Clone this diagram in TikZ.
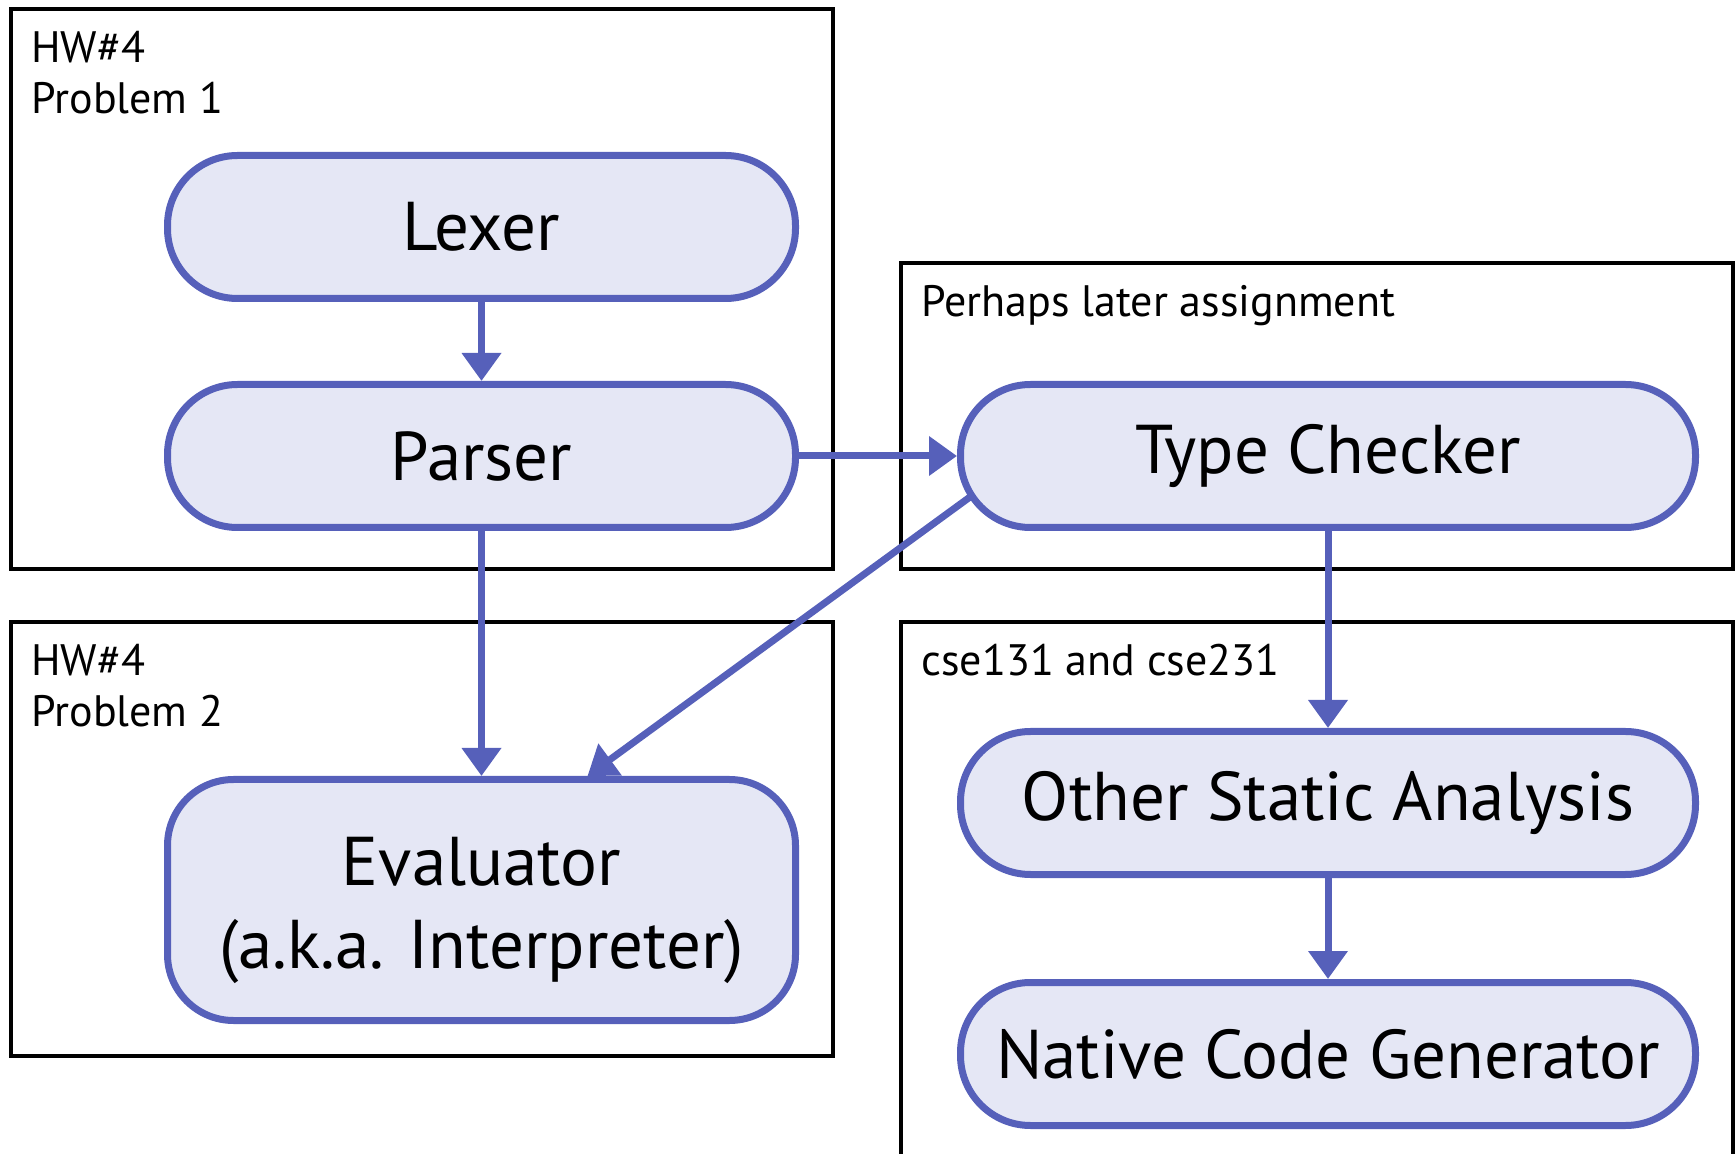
\documentclass[tikz,border=0pt]{standalone}
\usepackage{fontspec}
\setmainfont{PT Sans}
\usepackage{xcolor}
\usetikzlibrary{arrows.meta}
\definecolor{stageblue}{RGB}{86,96,186}
\definecolor{stagefill}{RGB}{229,231,245}

\tikzset{
    stage/.style={draw=stageblue, fill=stagefill, line width=3.5pt, rounded corners=35pt,
        minimum width=314pt, minimum height=71.5pt, inner sep=0pt, align=center,
        font=\fontsize{34.5}{41.5}\selectfont},
    group/.style={draw=black, line width=2.4pt},
    grouplabel/.style={anchor=north west, inner sep=0pt, align=left,
        font=\fontsize{22}{25.5}\selectfont},
    flow/.style={draw=stageblue, line width=3.5pt, -{Triangle[length=14pt,width=19pt]}},
}

\begin{document}
\begin{tikzpicture}[x=0.5pt, y=-0.5pt]

        \useasboundingbox (0,0) rectangle (1736,1154);

        % groups
        \draw[group] (11,9) rectangle (833,569);
        \draw[group] (11,622) rectangle (833,1056);
        \draw[group] (901,263) rectangle (1733,569);
        \draw[group] (901,622) rectangle (1733,1170);

        \node[grouplabel] (hwone) at (31,31) {HW\#4\\Problem 1};
        \node[grouplabel] (hwtwo) at (31,644) {HW\#4\\Problem 2};
        \node[grouplabel] (later) at (921,285) {Perhaps later assignment};
        \node[grouplabel] (cse) at (921,644) {cse131 and cse231};

        % stages
        \node[stage] (lexer) at (481.5,227) {Lexer};
        \node[stage] (parser) at (481.5,456) {Parser};
        \node[stage, minimum height=120.5pt, rounded corners=33pt] (eval) at (481.5,900) {\rule{0pt}{35pt}Evaluator\\(a.k.a. Interpreter)};
        \node[stage, minimum width=367.5pt] (tc) at (1328,456) {Type Checker};
        \node[stage, minimum width=367.5pt] (osa) at (1328,803) {Other Static Analysis};
        \node[stage, minimum width=367.5pt] (ncg) at (1328,1054) {Native Code Generator};

        \draw[flow] (lexer) -- (parser);
        \draw[flow] (parser) -- (eval);
        \draw[flow] (parser) -- (tc);
        \draw[flow] ([shift={(13,41)}]tc.west) -- ([shift={(106,0)}]eval.north);
        \draw[flow] (tc) -- (osa);
        \draw[flow] (osa) -- (ncg);
    \end{tikzpicture}
\end{document}
